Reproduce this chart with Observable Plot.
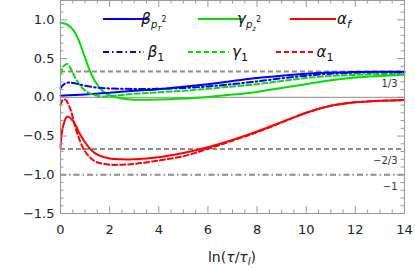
<!DOCTYPE html>
<html>
<head>
<meta charset="utf-8">
<script src="https://cdn.jsdelivr.net/npm/d3@7"></script>
<script src="https://cdn.jsdelivr.net/npm/@observablehq/plot@0.6"></script>
<style>
  html, body { margin: 0; padding: 0; background: #fff; }
  #chart svg { display: block; }
</style>
</head>
<body>
<div id="chart"></div>
<script>
// ---- data ----
const xBetaPT = [0, 1, 2, 3, 4, 5, 6, 7, 8, 9, 10, 11, 12, 13, 14];
const betaPT2 = [0.02, 0.035, 0.06, 0.085, 0.105, 0.135, 0.17, 0.21, 0.25, 0.28, 0.305, 0.32, 0.327, 0.33, 0.331];

const xGammaPz = [0, 0.2, 0.4, 0.6, 0.8, 1.0, 1.2, 1.4, 1.6, 1.8, 2.0, 2.5, 3, 4, 5, 6, 7, 8, 9, 10, 11, 12, 13, 14];
const gammaPz2 = [0.96, 0.95, 0.91, 0.83, 0.69, 0.51, 0.34, 0.21, 0.12, 0.06, 0.025, -0.015, -0.03, -0.028, -0.015, 0.005, 0.035, 0.07, 0.12, 0.17, 0.22, 0.255, 0.275, 0.29];

const xAlphaF = [0, 0.1, 0.27, 0.5, 0.75, 1, 1.25, 1.5, 2, 2.5, 3, 3.5, 4, 5, 6, 7, 8, 9, 10, 11, 12, 13, 14];
const alphaF = [-0.65, -0.38, -0.25, -0.3, -0.45, -0.58, -0.68, -0.74, -0.79, -0.8, -0.8, -0.79, -0.775, -0.72, -0.645, -0.55, -0.44, -0.32, -0.2, -0.11, -0.065, -0.045, -0.035];

const xBeta1 = [0, 0.15, 0.35, 0.6, 1, 1.5, 2, 3, 4, 5, 6, 7, 8, 9, 10, 11, 12, 13, 14];
const beta1 = [0.12, 0.17, 0.19, 0.18, 0.15, 0.125, 0.115, 0.108, 0.11, 0.12, 0.14, 0.17, 0.205, 0.245, 0.28, 0.305, 0.318, 0.323, 0.325];

const xGamma1 = [0, 0.12, 0.27, 0.4, 0.6, 0.8, 1.0, 1.3, 1.7, 2, 2.5, 3, 4, 5, 6, 7, 8, 9, 10, 11, 12, 13, 14];
const gamma1 = [0.3, 0.4, 0.43, 0.38, 0.25, 0.15, 0.09, 0.035, 0.012, 0.015, 0.03, 0.045, 0.065, 0.085, 0.11, 0.14, 0.17, 0.21, 0.25, 0.275, 0.29, 0.3, 0.305];

const xAlpha1 = [0, 0.1, 0.2, 0.4, 0.6, 0.8, 1, 1.25, 1.5, 2, 2.5, 3, 4, 5, 6, 7, 8, 9, 10, 11, 12, 13, 14];
const alpha1 = [-0.1, -0.03, -0.03, -0.15, -0.38, -0.57, -0.7, -0.79, -0.84, -0.87, -0.87, -0.86, -0.815, -0.76, -0.665, -0.56, -0.45, -0.325, -0.2, -0.11, -0.065, -0.045, -0.035];

const refDashed = [1/3, -2/3];
const refDashDot = [-1];
const refLabelValues = [1/3, -2/3, -1];
const refLabels = ["1/3", "\u22122/3", "\u22121"];

const xMajor = [0, 2, 4, 6, 8, 10, 12, 14];
const xMinor = d3.range(0, 14.001, 0.5).filter(v => v % 2 !== 0);
const yMajor = [-1.5, -1.0, -0.5, 0.0, 0.5, 1.0];
const yMinor = d3.range(-15, 13).map(v => v / 10).filter(v => Math.abs(v * 2 - Math.round(v * 2)) > 1e-6);

// ---- build tables ----
const toRows = (xs, ys) => xs.map((x, i) => ({x, y: ys[i]}));
const sBetaPT = toRows(xBetaPT, betaPT2);
const sGammaPz = toRows(xGammaPz, gammaPz2);
const sAlphaF = toRows(xAlphaF, alphaF);
const sBeta1 = toRows(xBeta1, beta1);
const sGamma1 = toRows(xGamma1, gamma1);
const sAlpha1 = toRows(xAlpha1, alpha1);

const BLUE = "#0000ff", GREEN = "#00e000", RED = "#ff0000", GRAY = "#8c8c8c", FRAME = "#9a9a9a";
const W = 415, H = 268, ML = 60, MR = 11, MT = 0, MB = 55;
const innerW = W - ML - MR, innerH = H - MT - MB;
const MAJ = 7, MIN = 3.5;
const curve = "catmull-rom";

const plot = Plot.plot({
  width: W, height: H,
  marginLeft: ML, marginRight: MR, marginTop: MT, marginBottom: MB,
  style: {fontFamily: "DejaVu Sans", fontSize: "13px", color: "#222", background: "#fff"},
  x: {domain: [0, 14], ticks: xMajor, tickSize: 0, tickPadding: 11, label: null},
  y: {domain: [-1.5, 1.25], ticks: yMajor, tickSize: 0, tickPadding: 6, label: null,
      tickFormat: d => d3.format(".1f")(d).replace("-", "\u2212")},
  marks: [
    Plot.ruleY([0], {stroke: GRAY, strokeWidth: 1}),
    Plot.ruleY(refDashed, {stroke: GRAY, strokeWidth: 2, strokeDasharray: "5,3"}),
    Plot.ruleY(refDashDot, {stroke: GRAY, strokeWidth: 1.8, strokeDasharray: "6,3,1.5,3"}),
    Plot.text(refLabelValues, {y: d => d, text: (d, i) => refLabels[i], frameAnchor: "right", dx: -7, dy: 12,
      textAnchor: "end", fontSize: 10, fill: "#333"}),
    Plot.line(sGammaPz, {x: "x", y: "y", stroke: GREEN, strokeWidth: 2, curve}),
    Plot.line(sBetaPT, {x: "x", y: "y", stroke: BLUE, strokeWidth: 2, curve}),
    Plot.line(sAlphaF, {x: "x", y: "y", stroke: RED, strokeWidth: 2, curve}),
    Plot.line(sGamma1, {x: "x", y: "y", stroke: GREEN, strokeWidth: 2, strokeDasharray: "5,3", curve}),
    Plot.line(sBeta1, {x: "x", y: "y", stroke: BLUE, strokeWidth: 2, strokeDasharray: "6,3,1.5,3", curve}),
    Plot.line(sAlpha1, {x: "x", y: "y", stroke: RED, strokeWidth: 2, strokeDasharray: "5,3", curve}),
    Plot.frame({stroke: FRAME, strokeWidth: 1}),
    // inward ticks, bottom & top
    Plot.tickX(xMajor, {x: d => d, insetTop: innerH - MAJ, stroke: FRAME}),
    Plot.tickX(xMinor, {x: d => d, insetTop: innerH - MIN, stroke: FRAME}),
    Plot.tickX(xMajor, {x: d => d, insetBottom: innerH - MAJ, stroke: FRAME}),
    Plot.tickX(xMinor, {x: d => d, insetBottom: innerH - MIN, stroke: FRAME}),
    // inward ticks, left & right
    Plot.tickY(yMajor, {y: d => d, insetRight: innerW - MAJ, stroke: FRAME}),
    Plot.tickY(yMinor, {y: d => d, insetRight: innerW - MIN, stroke: FRAME}),
    Plot.tickY(yMajor, {y: d => d, insetLeft: innerW - MAJ, stroke: FRAME}),
    Plot.tickY(yMinor, {y: d => d, insetLeft: innerW - MIN, stroke: FRAME})
  ]
});

document.getElementById("chart").appendChild(plot);

// ---- legend & axis label (layout in pixels) ----
const svg = d3.select(plot);
const g = svg.append("g").attr("font-family", "DejaVu Sans").attr("fill", "#111");

function entry(x1, x2, y, stroke, dash, labelX, parts) {
  g.append("line").attr("x1", x1).attr("x2", x2).attr("y1", y).attr("y2", y)
    .attr("stroke", stroke).attr("stroke-width", 2).attr("stroke-dasharray", dash || null);
  const t = g.append("text").attr("x", labelX).attr("y", y + 5).attr("font-size", 15).attr("font-style", "italic");
  parts.forEach(p => {
    t.append("tspan").text(p.t).attr("font-size", p.fs || 15).attr("dy", p.dy || 0)
      .attr("font-style", p.upright ? "normal" : "italic");
  });
}
// row 1
entry(103, 148, 19, BLUE, null, 154, [{t: "\u03B2"}, {t: "p", fs: 10, dy: 4}, {t: "T", fs: 7, dy: 3}, {t: "2", fs: 8, dy: -9, upright: true}]);
entry(198, 243, 19, GREEN, null, 249, [{t: "\u03B3"}, {t: "p", fs: 10, dy: 4}, {t: "z", fs: 7, dy: 3}, {t: "2", fs: 8, dy: -9, upright: true}]);
entry(290, 336, 19, RED, null, 344, [{t: "\u03B1"}, {t: "f", fs: 11, dy: 4}]);
// row 2
entry(103, 144, 52, BLUE, "6,3,1.5,3", 156, [{t: "\u03B2"}, {t: "1", fs: 11, dy: 4, upright: true}]);
entry(188, 229, 52, GREEN, "5,3", 240, [{t: "\u03B3"}, {t: "1", fs: 11, dy: 4, upright: true}]);
entry(276, 313, 52, RED, "5,3", 325, [{t: "\u03B1"}, {t: "1", fs: 11, dy: 4, upright: true}]);

// x axis label ln(τ/τ_l)
const xl = svg.append("text").attr("x", ML + innerW / 2).attr("y", 262).attr("text-anchor", "middle")
  .attr("font-family", "DejaVu Sans").attr("font-size", 14).attr("fill", "#222");
xl.append("tspan").text("ln(");
xl.append("tspan").text("\u03C4").attr("font-style", "italic");
xl.append("tspan").text("/");
xl.append("tspan").text("\u03C4").attr("font-style", "italic");
xl.append("tspan").text("l").attr("font-style", "italic").attr("font-size", 10).attr("dy", 3);
xl.append("tspan").text(")").attr("dy", -3);
</script>
</body>
</html>
